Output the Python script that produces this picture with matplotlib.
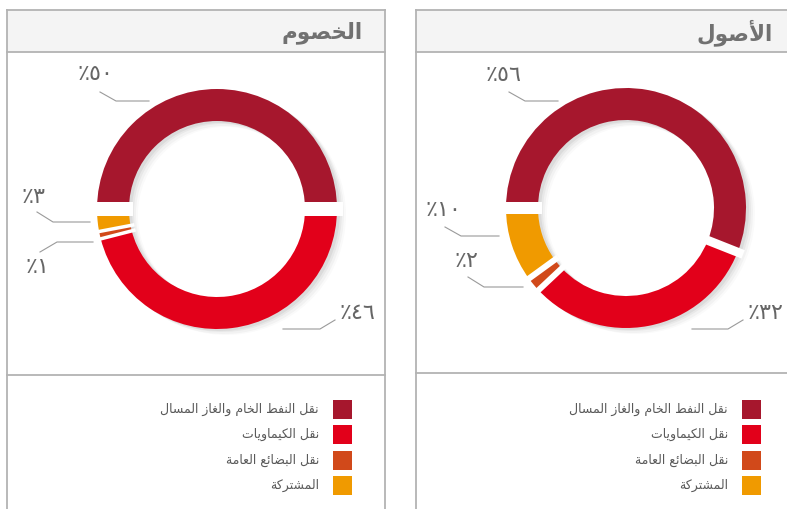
import numpy as np
import matplotlib.pyplot as plt
from matplotlib.patches import Rectangle

plt.rcParams['font.family'] = ['DejaVu Sans']

# --- data ---
categories = ['نقل النفط الخام والغاز المسال', 'نقل الكيماويات', 'نقل البضائع العامة', 'المشتركة']
colors = ['#A6172D', '#E2001A', '#D1491A', '#F09A00']
liabilities = [50, 46, 1, 3]
assets = [56, 32, 2, 10]
titles = ['الخصوم', 'الأصول']

# --- simple arabic shaping (matplotlib has no bidi / joining) ---
dual = {'ئ': 0xFE89, 'ب': 0xFE8F, 'ت': 0xFE95, 'ث': 0xFE99, 'ج': 0xFE9D, 'ح': 0xFEA1,
        'خ': 0xFEA5, 'س': 0xFEB1, 'ش': 0xFEB5, 'ص': 0xFEB9, 'ض': 0xFEBD, 'ط': 0xFEC1,
        'ظ': 0xFEC5, 'ع': 0xFEC9, 'غ': 0xFECD, 'ف': 0xFED1, 'ق': 0xFED5, 'ك': 0xFED9,
        'ل': 0xFEDD, 'م': 0xFEE1, 'ن': 0xFEE5, 'ه': 0xFEE9, 'ي': 0xFEF1}
right = {'آ': 0xFE81, 'أ': 0xFE83, 'ؤ': 0xFE85, 'إ': 0xFE87, 'ا': 0xFE8D, 'ة': 0xFE93,
         'د': 0xFEA9, 'ذ': 0xFEAB, 'ر': 0xFEAD, 'ز': 0xFEAF, 'و': 0xFEED, 'ى': 0xFEEF,
         'لآ': 0xFEF5, 'لأ': 0xFEF7, 'لإ': 0xFEF9, 'لا': 0xFEFB}


def shape(s):
    toks = []
    i = 0
    while i < len(s):
        if s[i] == 'ل' and s[i:i + 2] in right:
            toks.append(s[i:i + 2])
            i += 2
        else:
            toks.append(s[i])
            i += 1
    out = []
    for k, t in enumerate(toks):
        if t not in dual and t not in right:
            out.append(t)
            continue
        prev = toks[k - 1] if k > 0 else ''
        nxt = toks[k + 1] if k + 1 < len(toks) else ''
        jp = prev in dual
        if t in dual:
            jn = nxt in dual or nxt in right
            form = 3 if (jp and jn) else 1 if jp else 2 if jn else 0
            out.append(chr(dual[t] + form))
        else:
            out.append(chr(right[t] + (1 if jp else 0)))
    return ''.join(reversed(out))


def pct(v):
    return '٪' + str(v).translate(str.maketrans('0123456789', '٠١٢٣٤٥٦٧٨٩'))


W, H = 787, 509


def Y(y):
    return H - y


fig = plt.figure(figsize=(7.87, 5.09), dpi=100)
ax = fig.add_axes([0, 0, 1, 1])

line_c = '#b3b3b3'
text_c = '#5a5a5a'

panels = [
    dict(values=liabilities, title=titles[0], x0=7, x1=385, title_x=363, sep=375,
         cx=217, cy=209, gaps=[14, 14, 3.5, 3.5], sq_x=333,
         labels=[((95, 74), [(149, 101), (116, 101), (100, 92)]),
                 ((357, 313), [(283, 329), (320, 329), (335, 320)]),
                 ((38, 267), [(93, 242), (57, 242), (40, 252)]),
                 ((34, 197), [(90, 222), (53, 222), (37, 212)])]),
    dict(values=assets, title=titles[1], x0=416, x1=800, title_x=773, sep=373,
         cx=626, cy=208, gaps=[12, 9, 6, 6], sq_x=742,
         labels=[((504, 75), [(558, 101), (525, 101), (509, 92)]),
                 ((765, 313), [(692, 329), (728, 329), (743, 320)]),
                 ((466, 261), [(523, 287), (484, 287), (468, 277)]),
                 ((443, 210), [(499, 236), (461, 236), (445, 227)])]),
]

R, RW = 120, 32

for p in panels:
    x0, x1 = p['x0'], p['x1']
    # frame + header
    ax.add_patch(Rectangle((x0, Y(52)), x1 - x0, 42, facecolor='#f4f4f4', edgecolor='none', zorder=0))
    ax.plot([x0, x0], [Y(10), Y(H + 5)], color=line_c, lw=1.3)
    ax.plot([x1, x1], [Y(10), Y(H + 5)], color=line_c, lw=1.3)
    ax.plot([x0, x1], [Y(10), Y(10)], color=line_c, lw=1.3)
    ax.plot([x0, x1], [Y(52), Y(52)], color=line_c, lw=1.3)
    ax.plot([x0, x1], [Y(p['sep']), Y(p['sep'])], color=line_c, lw=1.3)
    ax.text(p['title_x'], Y(33), shape(p['title']), ha='right', va='center',
            fontsize=15.5, fontweight='bold', color='#717171')

    cx, cy = p['cx'], Y(p['cy'])
    # soft shadow
    for dx, dy, a in [(3, -2, 0.05), (5, -3, 0.04), (7, -5, 0.03), (9, -6, 0.02)]:
        w, _ = ax.pie(p['values'], colors=['black'] * 4, startangle=180, counterclock=False,
                      radius=R, center=(cx + dx, cy + dy),
                      wedgeprops=dict(width=RW, linewidth=0, alpha=a))
        for ww in w:
            ww.set_zorder(1)
    wedges, _ = ax.pie(p['values'], colors=colors, startangle=180, counterclock=False,
                       radius=R, center=(cx, cy), wedgeprops=dict(width=RW, linewidth=0))
    for ww in wedges:
        ww.set_zorder(2)
    # white gaps at slice boundaries
    bounds = 180 - 3.6 * np.concatenate([[0], np.cumsum(p['values'])[:-1]])
    for ang, g in zip(bounds, p['gaps']):
        t = np.deg2rad(ang)
        r0, r1 = R - RW - 4, R + 6
        ax.plot([cx + r0 * np.cos(t), cx + r1 * np.cos(t)], [cy + r0 * np.sin(t), cy + r1 * np.sin(t)],
                color='white', lw=g * 0.72, solid_capstyle='butt', zorder=3)

    # labels with leader lines
    for v, (txy, pts) in zip(p['values'], p['labels']):
        xs = [q[0] for q in pts]
        ys = [Y(q[1]) for q in pts]
        ax.plot(xs, ys, color='#9a9a9a', lw=0.8, zorder=4)
        ax.text(txy[0], Y(txy[1]), pct(v), ha='center', va='center', fontsize=16,
                color='#666666', zorder=4)

    # legend
    for i, (cat, c) in enumerate(zip(categories, colors)):
        top = 400 + i * 25.4
        ax.add_patch(Rectangle((p['sq_x'], Y(top + 19)), 19, 19, facecolor=c, edgecolor='none'))
        ax.text(p['sq_x'] - 14, Y(top + 9.5), shape(cat), ha='right', va='center',
                fontsize=9, color=text_c)

ax.set_xlim(0, W)
ax.set_ylim(0, H)
ax.set_aspect('auto')
ax.axis('off')
fig.savefig('out.png', dpi=100)
